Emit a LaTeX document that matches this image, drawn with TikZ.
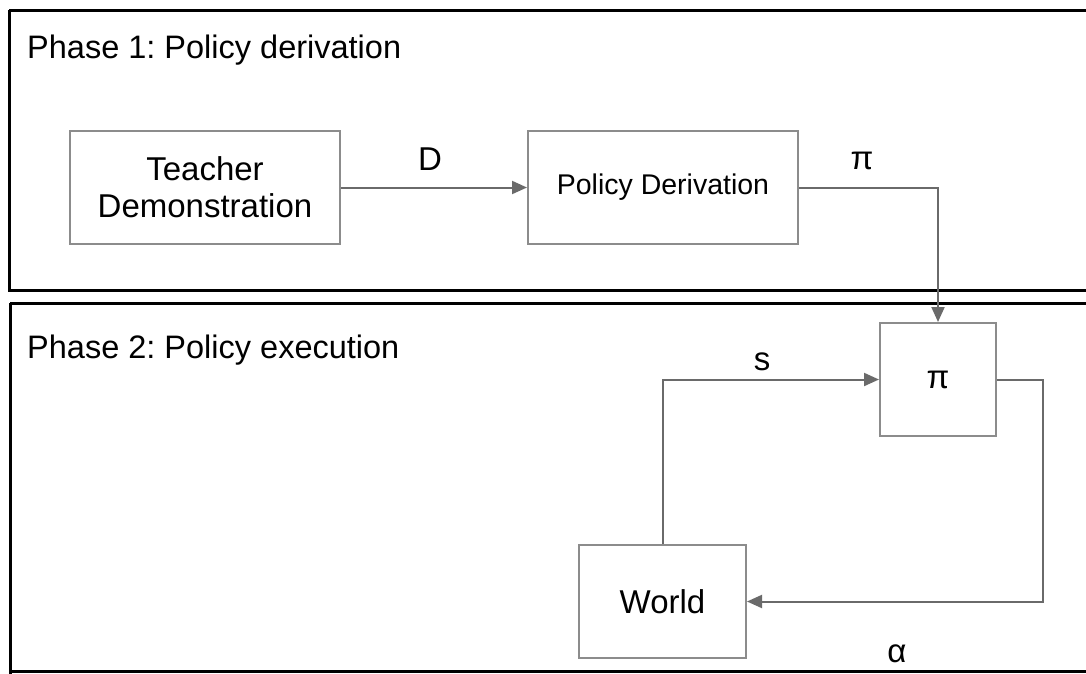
\documentclass[tikz,border=0pt]{standalone}
\usepackage{fontspec}
\setmainfont{Liberation Sans}
\usetikzlibrary{arrows.meta}
\definecolor{boxgray}{HTML}{8C8C8C}
\definecolor{linegray}{HTML}{6A6A6A}
\frenchspacing
\begin{document}
\begin{tikzpicture}[x=1pt,y=-1pt,
  phase/.style={draw=black,line width=3pt},
  blk/.style={draw=boxgray,line width=2pt,fill=white,inner sep=0pt,align=center,font=\fontsize{33}{38}\selectfont},
  conn/.style={draw=linegray,line width=2pt,-{Triangle[length=15pt,width=13pt]}},
  lbl/.style={font=\fontsize{33}{38}\selectfont,inner sep=0pt},
  title/.style={font=\fontsize{32.5}{38}\selectfont,inner sep=0pt,anchor=west}]
\useasboundingbox (0,0) rectangle (1086,673);
\fill[white] (0,0) rectangle (1086,673);
% phase boxes
\draw[phase] (9,10) -- (1095,10) (9,10) -- (9,290) -- (1095,290);
\draw[phase] (10,303) -- (1095,303) (10,303) -- (10,680);
\draw[phase] (10,671) -- (1095,671);
\node[title] (t1) at (27,50) {Phase 1: Policy derivation};
\node[title] (t2) at (27,350) {Phase 2: Policy execution};
% blocks
\node[blk,minimum width=270pt,minimum height=113pt] (teach) at (205,187.5) {Teacher\\[-1pt]Demonstration};
\node[blk,minimum width=270pt,minimum height=113pt,font=\fontsize{28.5}{32}\selectfont] (pd) at (663,187.5) {Policy Derivation};
\node[blk,minimum width=116pt,minimum height=113pt] (pi) at (938,379.5) {π};
\node[blk,minimum width=167pt,minimum height=113pt] (world) at (662.5,601.5) {World};
% connectors
\draw[conn] (teach.east) -- (pd.west);
\draw[conn] (pd.east) -| (pi.north);
\draw[conn] (world.north) |- (pi.west);
\draw[conn] (pi.east) -- ++(46,0) coordinate (aright) |- (world.east);
% labels
\node[lbl] (lD) at (430,159) {D};
\node[lbl] (lpi) at (862,161) {π};
\node[lbl] (ls) at (762,362) {s};
\node[lbl] (la) at (897,654) {α};
\end{tikzpicture}
\end{document}
